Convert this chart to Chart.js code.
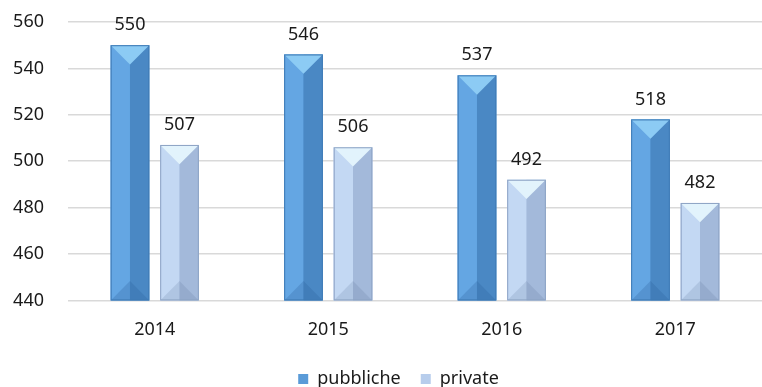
<!DOCTYPE html>
<html>
<head>
<meta charset="utf-8">
<script src="https://cdn.jsdelivr.net/npm/chart.js@4.4.0/dist/chart.umd.min.js"></script>
<style>
    html, body { margin: 0; padding: 0; background: #ffffff; }
    #wrap { width: 762px; height: 387px; }
</style>
</head>
<body>
<div id="wrap"><canvas id="chart"></canvas></div>
<script>
// ==========================================
// DATA
// ==========================================
const years = ['2014', '2015', '2016', '2017'];
const pubbliche = [550, 546, 537, 518];
const privateVals = [507, 506, 492, 482];
const seriesNames = ['pubbliche', 'private'];
const yTicks = [440, 460, 480, 500, 520, 540, 560];

// shades per series: base, light half, dark half, top cap, bottom shade
const shades = [
    { base: '#5a9bd8', light: '#64a6e3', dark: '#4a88c4', top: '#8ccbf4', bottom: 'rgba(40,90,150,0.25)', edge: '#3f7ab5' },
    { base: '#b7cdec', light: '#c3d8f3', dark: '#a3b9da', top: '#e2f3fc', bottom: 'rgba(90,110,150,0.18)', edge: '#8da3c4' }
];

const FONT = 'Noto Sans';
const TEXT = '#1a1a1a';

// ==========================================
// PLUGINS
// ==========================================

// the legend in the original sits a little right of centre
const legendShift = {
    id: 'legendShift',
    afterLayout(chart) {
        if (chart.legend) {
            chart.legend.left += 13;
            chart.legend.right += 13;
        }
    }
};

// bevel look drawn over each bar, using the bar elements from the library
const bevelPlugin = {
    id: 'bevel',
    afterDatasetsDraw(chart) {
        const ctx = chart.ctx;
        const area = chart.chartArea;
        chart.data.datasets.forEach((ds, i) => {
            const meta = chart.getDatasetMeta(i);
            const s = shades[i];
            meta.data.forEach(bar => {
                const w = bar.width;
                const l = bar.x - w / 2;
                const r = bar.x + w / 2;
                const t = bar.y;
                const b = Math.min(bar.base, area.bottom);
                const h = w / 2;
                ctx.save();
                // left half
                ctx.fillStyle = s.light;
                ctx.fillRect(l, t, w / 2, b - t);
                // right half
                ctx.fillStyle = s.dark;
                ctx.fillRect(bar.x, t, w / 2, b - t);
                // bottom bevel
                ctx.fillStyle = s.bottom;
                ctx.beginPath();
                ctx.moveTo(l, b);
                ctx.lineTo(r, b);
                ctx.lineTo(bar.x, b - h);
                ctx.closePath();
                ctx.fill();
                // top cap (downward V)
                ctx.fillStyle = s.top;
                ctx.beginPath();
                ctx.moveTo(l, t);
                ctx.lineTo(r, t);
                ctx.lineTo(bar.x, t + h);
                ctx.closePath();
                ctx.fill();
                // outline
                ctx.strokeStyle = s.edge;
                ctx.lineWidth = 1;
                ctx.strokeRect(l + 0.5, t + 0.5, w - 1, b - t - 1);
                ctx.restore();
            });
        });
    }
};

// value labels above each bar
const valueLabels = {
    id: 'valueLabels',
    afterDatasetsDraw(chart) {
        const ctx = chart.ctx;
        ctx.save();
        ctx.font = '18px "' + FONT + '"';
        ctx.fillStyle = TEXT;
        ctx.textAlign = 'center';
        ctx.textBaseline = 'bottom';
        chart.data.datasets.forEach((ds, i) => {
            chart.getDatasetMeta(i).data.forEach((bar, j) => {
                ctx.fillText(ds.data[j], bar.x, bar.y - 11);
            });
        });
        ctx.restore();
    }
};

// ==========================================
// CHART
// ==========================================
const ctx = document.getElementById('chart').getContext('2d');
new Chart(ctx, {
    type: 'bar',
    data: {
        labels: years,
        datasets: [
            {
                label: seriesNames[0],
                data: pubbliche,
                backgroundColor: shades[0].base,
                borderWidth: 0
            },
            {
                label: seriesNames[1],
                data: privateVals,
                backgroundColor: shades[1].base,
                borderWidth: 0
            }
        ]
    },
    options: {
        responsive: true,
        maintainAspectRatio: false,
        animation: false,
        categoryPercentage: 0.571,
        barPercentage: 0.78,
        layout: {
            padding: { left: 0, right: -9, top: 22, bottom: -11 }
        },
        plugins: {
            legend: {
                position: 'bottom',
                labels: {
                    boxWidth: 10,
                    boxHeight: 10,
                    padding: 20,
                    color: TEXT,
                    font: { family: FONT, size: 18 }
                }
            },
            tooltip: { enabled: false }
        },
        scales: {
            x: {
                grid: { display: false },
                border: { display: false },
                afterFit: (axis) => { axis.height -= 2; },
                ticks: {
                    color: TEXT,
                    padding: 11,
                    font: { family: FONT, size: 18 }
                }
            },
            y: {
                min: 440,
                max: 560,
                afterBuildTicks: (axis) => {
                    axis.ticks = yTicks.map(v => ({ value: v }));
                },
                afterFit: (axis) => {
                    axis.width = 68;
                    axis.paddingTop = 0;
                },
                grid: { color: '#d9d9d9', lineWidth: 1.5, drawTicks: false },
                border: { display: false },
                ticks: {
                    color: TEXT,
                    padding: 24,
                    font: { family: FONT, size: 18 }
                }
            }
        }
    },
    plugins: [legendShift, bevelPlugin, valueLabels]
});
</script>
</body>
</html>
